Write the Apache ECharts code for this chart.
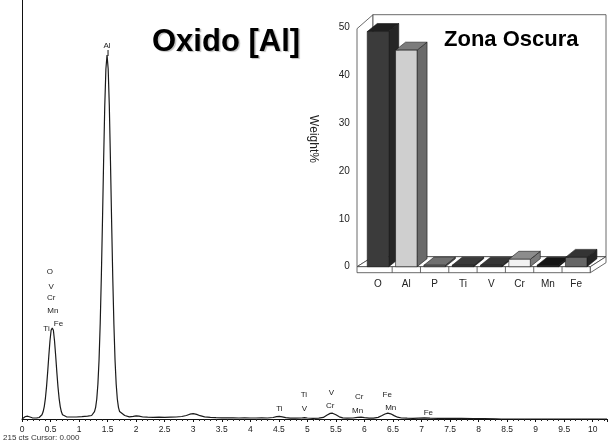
<!DOCTYPE html>
<html>
<head>
<meta charset="utf-8">
<script src="https://cdn.jsdelivr.net/npm/echarts@6/dist/echarts.min.js"></script>
<style>
  html, body { margin: 0; padding: 0; background: #fff; }
  #chart { width: 608px; height: 443px; }
</style>
</head>
<body>
<div id="chart"></div>
<script>
// EDS spectrum: energy (keV) and counts
const specKeV = [0, 0.03, 0.06, 0.10, 0.14, 0.18, 0.22, 0.26, 0.30,
  0.33, 0.35, 0.37, 0.39, 0.41, 0.43, 0.45, 0.47, 0.49, 0.51, 0.53, 0.55, 0.57, 0.59, 0.61, 0.63, 0.65, 0.67, 0.69, 0.71, 0.73,
  0.78, 0.85, 0.95, 1.05, 1.15, 1.22,
  1.25, 1.27, 1.29, 1.31, 1.33, 1.35, 1.37, 1.39, 1.41, 1.43, 1.45, 1.47, 1.49, 1.51, 1.53, 1.55, 1.57, 1.59, 1.61, 1.63, 1.65, 1.67, 1.69, 1.71, 1.73,
  1.80, 1.88, 1.95, 2.00, 2.05, 2.12, 2.20, 2.30, 2.40, 2.50, 2.60, 2.70, 2.80, 2.88, 2.94, 3.00, 3.06, 3.12, 3.20, 3.30,
  3.40, 3.50, 3.60, 3.70, 3.80, 3.90, 4.00, 4.10, 4.20, 4.30, 4.40, 4.46, 4.51, 4.56, 4.62, 4.70, 4.80, 4.90, 4.95, 5.00,
  5.10, 5.20, 5.28, 5.34, 5.40, 5.44, 5.50, 5.56, 5.62, 5.70, 5.80, 5.88, 5.94, 6.00, 6.08, 6.16, 6.24, 6.30, 6.36, 6.41,
  6.46, 6.52, 6.58, 6.65, 6.75, 6.85, 6.95, 7.05, 7.15, 7.30, 7.50, 7.70, 7.90, 8.10, 8.30, 8.40, 10.25];
const specCts = [0, 1.5, 2.5, 2.8, 2.0, 1.2, 1.0, 1.2, 1.5,
  2.7, 4.2, 7.2, 12.4, 20.7, 32.4, 47.1, 63.2, 78, 88.7, 91, 88.7, 78, 63.2, 47.1, 32.4, 20.7, 12.4, 7.2, 4.2, 2.7,
  2.2, 2.0, 2.0, 2.3, 2.8, 3.5,
  5.4, 7.4, 11.7, 20, 35, 59, 95, 142, 198, 258, 313, 350, 364, 350, 313, 258, 198, 142, 95, 59, 35, 20, 11.7, 7.4, 5.4,
  3.5, 2.2, 2.6, 3.2, 2.8, 2.0, 1.8, 1.6, 1.8, 1.6, 1.8, 2.0, 2.5, 3.5, 4.8, 5.4, 4.6, 3.3, 2.2, 1.6,
  1.3, 1.2, 1.2, 1.1, 1.0, 1.1, 1.0, 1.0, 1.1, 1.0, 1.5, 2.3, 2.6, 2.2, 1.3, 0.9, 0.8, 1.0, 1.4, 1.0,
  0.6, 0.8, 1.6, 3.8, 5.6, 5.8, 4.2, 2.2, 1.2, 0.8, 1.0, 1.6, 1.8, 1.3, 0.8, 0.9, 1.6, 3.2, 5.0, 5.8,
  5.2, 3.4, 1.8, 1.0, 0.8, 0.7, 0.9, 1.1, 0.8, 0.7, 0.6, 0.6, 0.5, 0.4, 0.2, 0, 0];

// Peak identification labels
const lineNames = ['Al', 'O', 'V', 'Cr', 'Mn', 'Fe', 'Ti', 'Ti', 'Ti', 'V', 'V', 'Cr', 'Cr', 'Mn', 'Fe', 'Mn', 'Fe'];
const lineKeV   = [1.49, 0.49, 0.51, 0.51, 0.54, 0.64, 0.43, 4.51, 4.94, 4.95, 5.42, 5.40, 5.91, 5.88, 6.40, 6.46, 7.12];
const lineLabelY = [373, 147, 132, 121, 108, 95, 90, 10, 24, 10, 26, 13, 22, 8.3, 24, 11.3, 6.7];
const lineMarker = [6, 0, 0, 0, 0, 0, 0, 0, 0, 0, 0, 0, 0, 0, 0, 0, 0];

// Energy axis ticks
const keVTicks = [0, 0.5, 1, 1.5, 2, 2.5, 3, 3.5, 4, 4.5, 5, 5.5, 6, 6.5, 7, 7.5, 8, 8.5, 9, 9.5, 10];

// Composition of the dark zone (weight %)
const elements = ['O', 'Al', 'P', 'Ti', 'V', 'Cr', 'Mn', 'Fe'];
const weightPct = [49.2, 45.3, 0.3, 0.3, 0.3, 1.55, 0.3, 1.95];
const weightTicks = [0, 10, 20, 30, 40, 50];
// face colours of each 3D bar: front, side, top
const barFront = ['#3b3b3b', '#cfcfcf', '#7a7a7a', '#383838', '#333333', '#f2f2f2', '#0e0e0e', '#666666'];
const barSide  = ['#262626', '#6a6a6a', '#5a5a5a', '#2a2a2a', '#262626', '#7a7a7a', '#080808', '#242424'];
const barTop   = ['#1f1f1f', '#7c7c7c', '#707070', '#3a3a3a', '#363636', '#8c8c8c', '#151515', '#343434'];

const FONT = "'Liberation Sans', Arial, sans-serif";

const chart = echarts.init(document.getElementById('chart'), null, { renderer: 'canvas' });

// inset layout
const IN_L = 363.85, IN_W = 226.5, IN_T = 27.7, IN_B = 266.7;
const DX = 10, DY = -8;     // bar depth
const WX = 16, WY = -10;    // wall depth

function renderBar(params, api) {
  const i = api.value(0);
  const v = api.value(1);
  const base = api.coord([i, 0]);
  const top = api.coord([i, v]);
  const band = api.size([1, 0])[0];
  const w = band * 0.76;
  const x0 = base[0] - w / 2, x1 = base[0] + w / 2;
  const y0 = base[1], y1 = top[1];
  const stroke = { stroke: '#1a1a1a', lineWidth: 0.6 };
  const children = [
    { type: 'polygon', shape: { points: [[x1, y1], [x1 + DX, y1 + DY], [x1 + DX, y0 + DY], [x1, y0]] },
      style: Object.assign({ fill: barSide[i] }, stroke) },
    { type: 'polygon', shape: { points: [[x0, y1], [x0 + DX, y1 + DY], [x1 + DX, y1 + DY], [x1, y1]] },
      style: Object.assign({ fill: barTop[i] }, stroke) },
    { type: 'rect', shape: { x: x0, y: y1, width: w, height: y0 - y1 },
      style: Object.assign({ fill: barFront[i] }, stroke) }
  ];
  if (i > 0) {
    const xs = base[0] - band / 2;
    children.push({ type: 'line', shape: { x1: xs, y1: y0, x2: xs, y2: y0 + 6 },
      style: { stroke: '#444', lineWidth: 0.8 } });
  }
  return { type: 'group', children: children };
}

function renderLineLabel(params, api) {
  const p = api.coord([api.value(0), api.value(1)]);
  const i = params.dataIndex;
  const children = [{
    type: 'text',
    style: { text: lineNames[i], x: p[0], y: p[1], align: 'center', verticalAlign: 'middle',
      font: '8px ' + FONT, fill: '#222' }
  }];
  if (lineMarker[i] > 0) {
    children.push({ type: 'line', shape: { x1: p[0] + 1, y1: p[1] + 4, x2: p[0] + 1, y2: p[1] + 4 + lineMarker[i] },
      style: { stroke: '#111', lineWidth: 1 } });
  }
  return { type: 'group', children: children };
}

const wallStyle = { fill: '#fff', stroke: '#444', lineWidth: 0.8 };
const fl = 357, fr = IN_L + IN_W;   // floor front extents

const option = {
  animation: false,
  backgroundColor: '#fff',
  textStyle: { fontFamily: FONT },
  grid: [
    { left: 22, right: 1, top: 0, bottom: 24 },
    { left: IN_L, top: IN_T, width: IN_W, height: IN_B - IN_T }
  ],
  xAxis: [
    {
      type: 'value', gridIndex: 0, min: 0, max: 10.25, interval: 0.5,
      axisLine: { lineStyle: { color: '#111', width: 1 } },
      axisTick: { length: 3, lineStyle: { color: '#111' } },
      minorTick: { show: true, splitNumber: 5, length: 2, lineStyle: { color: '#222' } },
      splitLine: { show: false },
      axisLabel: { fontSize: 8.5, color: '#222', margin: 6, showMaxLabel: false,
        formatter: v => keVTicks.indexOf(v) >= 0 ? String(v) : '' }
    },
    {
      type: 'category', gridIndex: 1, data: elements,
      axisLine: { show: false }, axisTick: { show: false },
      axisLabel: { fontSize: 10, color: '#222', margin: 13 }
    }
  ],
  yAxis: [
    {
      type: 'value', gridIndex: 0, min: 0, max: 419,
      axisLine: { show: true, lineStyle: { color: '#111', width: 1 } },
      axisTick: { show: false }, axisLabel: { show: false }, splitLine: { show: false }
    },
    {
      type: 'value', gridIndex: 1, min: 0, max: 50, interval: 10,
      axisLine: { show: false }, axisTick: { show: false }, splitLine: { show: false },
      axisLabel: { fontSize: 10, color: '#222', margin: 14,
        formatter: v => weightTicks.indexOf(v) >= 0 ? String(v) : '' }
    }
  ],
  graphic: [
    // 3D frame of the inset
    { type: 'polygon', z: 1, shape: { points: [[fl, IN_T + 1], [fl + WX, IN_T + 1 - 14], [fl + WX, IN_B + WY], [fl, IN_B]] }, style: wallStyle },
    { type: 'rect', z: 1, shape: { x: fl + WX, y: IN_T - 13, width: 606 - fl - WX, height: IN_B + WY - IN_T + 13 }, style: wallStyle },
    { type: 'polygon', z: 1, shape: { points: [[fl, IN_B], [fl + WX, IN_B + WY], [606, IN_B + WY], [fr, IN_B]] }, style: wallStyle },
    { type: 'rect', z: 1, shape: { x: fl, y: IN_B, width: fr - fl, height: 6 }, style: wallStyle },
    { type: 'polygon', z: 1, shape: { points: [[fr, IN_B], [606, IN_B + WY], [606, IN_B + WY + 6], [fr, IN_B + 6]] }, style: wallStyle },
    // titles
    { type: 'text', z: 10, left: 152, top: 27,
      style: { text: 'Oxido [Al]', font: 'bold 31px ' + FONT, fill: '#000',
        textShadowColor: 'rgba(0,0,0,0.25)', textShadowOffsetX: 1.5, textShadowOffsetY: 1, textShadowBlur: 1 } },
    { type: 'text', z: 10, left: 444, top: 29,
      style: { text: 'Zona Oscura', font: 'bold 22px ' + FONT, fill: '#000' } },
    { type: 'text', z: 10, x: 313, y: 139, rotation: -Math.PI / 2,
      style: { text: 'Weight%', font: '12px ' + FONT, fill: '#222', align: 'center', verticalAlign: 'middle' } },
    { type: 'text', z: 10, left: 3, top: 434,
      style: { text: '215 cts Cursor: 0.000', font: '8px ' + FONT, fill: '#333' } }
  ],
  series: [
    {
      type: 'line', xAxisIndex: 0, yAxisIndex: 0,
      data: specKeV.map((k, i) => [k, specCts[i]]),
      showSymbol: false, symbol: 'none',
      lineStyle: { color: '#1a1a1a', width: 1.2 }, z: 3
    },
    {
      type: 'custom', xAxisIndex: 0, yAxisIndex: 0,
      data: lineKeV.map((k, i) => [k, lineLabelY[i]]),
      renderItem: renderLineLabel, z: 4
    },
    {
      type: 'custom', xAxisIndex: 1, yAxisIndex: 1,
      data: weightPct.map((v, i) => [i, v]),
      renderItem: renderBar, z: 5
    }
  ]
};

chart.setOption(option);
</script>
</body>
</html>
